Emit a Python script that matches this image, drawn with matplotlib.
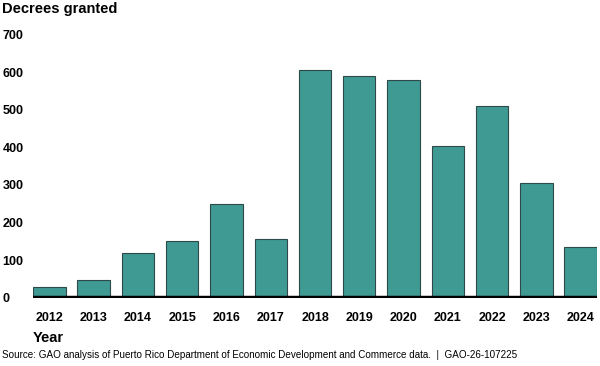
import matplotlib
matplotlib.use('Agg')
import matplotlib.pyplot as plt

plt.rcParams['font.family'] = ['Liberation Sans', 'DejaVu Sans']

years = ['2012', '2013', '2014', '2015', '2016', '2017', '2018',
         '2019', '2020', '2021', '2022', '2023', '2024']
decrees = [30, 48, 120, 152, 250, 157, 606, 590, 580, 404, 511, 306, 136]
yticks = [0, 100, 200, 300, 400, 500, 600, 700]

fig = plt.figure(figsize=(6, 3.66), dpi=100)
ax = fig.add_axes([0.055, 0.186, 0.94, 0.72])

x = list(range(len(years)))
ax.bar(x, decrees, width=0.73, color='#3f9a94', edgecolor='#2e4a48', linewidth=0.8, zorder=2)
ax.axhline(0, color='black', linewidth=3.2, zorder=3)

ax.set_xlim(-0.37, len(years) - 1 + 0.37)
ax.set_ylim(0, 700)
ax.set_xticks(x)
ax.set_xticklabels(years, fontsize=9, fontweight='bold')
ax.set_yticks(yticks)
ax.set_yticklabels([str(v) for v in yticks], fontsize=9, fontweight='bold', ha='left')
ax.tick_params(axis='y', length=0, pad=22)
ax.tick_params(axis='x', length=0, pad=10)
for s in ax.spines.values():
    s.set_visible(False)

fig.text(0.003, 0.975, 'Decrees granted', fontsize=10.5, fontweight='bold', va='center', ha='left')
fig.text(0.055, 0.077, 'Year', fontsize=10.5, fontweight='bold', va='center', ha='left')
fig.text(0.003, 0.03, 'Source: GAO analysis of Puerto Rico Department of Economic Development and Commerce data.  |  GAO-26-107225',
         fontsize=7.1, va='center', ha='left')

fig.savefig('out.png', dpi=100)
